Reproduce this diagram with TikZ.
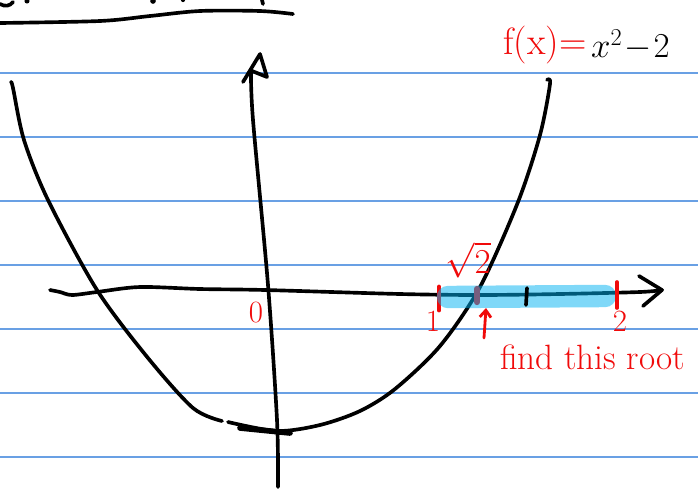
\documentclass[tikz,border=0pt]{standalone}
\usepackage{amsmath}
\usetikzlibrary{positioning, arrows.meta}
\definecolor{ruled}{RGB}{105,160,228}
\definecolor{marker}{RGB}{0,178,242}
\definecolor{pen}{RGB}{240,10,10}
\tikzset{
  ink/.style={line width=2.6pt, line cap=round, line join=round},
  redink/.style={ink, draw=pen},
  rednote/.style={text=pen, inner sep=0pt, font=\fontsize{25}{27}\selectfont},
}

\begin{document}
\begin{tikzpicture}[x=0.025cm, y=-0.025cm]
                \useasboundingbox (0,0) rectangle (698,489);
                % ruled paper
                \foreach \y in {73,137,...,457}{
                  \draw[ruled, line width=0.8pt] (0,\y) -- (698,\y);
                }

                % heading cut off at the top, with its underline
                \draw[ink] (0,4) .. controls (5,7) and (10,6) .. (13,2);
                \fill (27,1) circle (1.8pt);
                \fill (153,1) circle (2pt);
                \fill (183,0) circle (1.5pt);
                \draw[ink] (262,0) -- (263,4);
                \draw[ink] plot[smooth] coordinates {(0,23) (100,21) (150,16) (200,11) (260,11) (293,14)};

                % x axis
                \coordinate (xfoot) at (50,290);
                \coordinate (xtip) at (662,290);
                \draw[ink] plot[smooth] coordinates {(xfoot) (60,292) (72,295) (97,292) (140,287) (200,289) (265,290) (400,294) (480,295) (560,294) (640,292) (xtip)};
                \draw[ink] (639,276) -- (xtip) -- (643,306);

                % y axis
                \coordinate (yfoot) at (278,487);
                \coordinate (ytip) at (260,54);
                \draw[ink] plot[smooth] coordinates {(yfoot) (277,420) (268,285) (253,120) (251,72)};
                \draw[ink] (243,82) -- (ytip) -- (267,77) -- (252,71);

                % the parabola, drawn in two strokes
                \draw[ink] plot[smooth] coordinates {(11,82) (13,88) (24,140) (48,200) (97,290) (148,358) (193,408) (222,421)};
                \draw[ink] plot[smooth] coordinates {(228,422) (277,431) (320,425) (360,411) (395,389) (440,346) (480,287) (518,202) (540,135) (550,84) (547,80)};
                \draw[ink, line width=4pt] (240,428) -- (290,433);

                % marks under the highlighter
                \draw[redink, line width=3.5pt] (439,287) -- (439,310);
                \draw[redink, line width=4.5pt] (477,289) -- (477,302);
                % highlighter band from 1 to 2
                \draw[marker, draw opacity=0.5, line width=0.56cm, line cap=round] (448,297) -- (605,296);
                \draw[redink] (617,282) -- (617,308);
                \draw[ink] (527,288) -- (526,305);

                % labels
                \node[rednote, font=\fontsize{22}{24}\selectfont] (zero) at (256,313) {0};
                \node[rednote, font=\fontsize{22}{24}\selectfont] (one) at (433,321) {1};
                \node[rednote, font=\fontsize{22}{24}\selectfont] (two) at (620,321) {2};
                \node[rednote] (sqrttwo) at (468,260) {$\sqrt{2}$};
                \coordinate (rootfoot) at (484,338);
                \draw[redink, line width=2pt, -{Straight Barb[length=5pt, width=8pt]}] (rootfoot) -- (486,308);
                \node[rednote, anchor=north west] (hint) at (500,345) {find this root};

                % the function
                \node[rednote, anchor=west, font=\fontsize{27}{29}\selectfont] (fx) at (503,45) {f(x)=};
                \node[right=3pt of fx, inner sep=0pt, font=\fontsize{27}{29}\selectfont] (rhs) {$x^2\!-\!2$};
            \end{tikzpicture}
\end{document}
